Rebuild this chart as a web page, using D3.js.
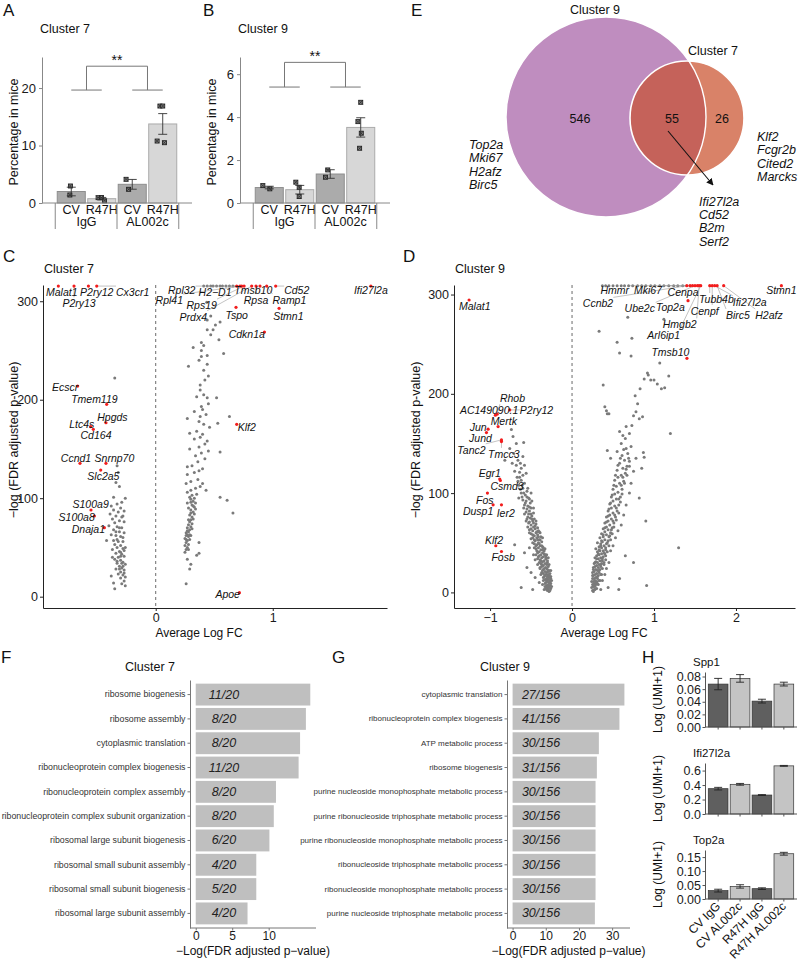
<!DOCTYPE html>
<html><head><meta charset="utf-8">
<script src="https://cdn.jsdelivr.net/npm/d3@7"></script>
<style>
body{margin:0;background:#fff}
svg{display:block}
text{font-family:"Liberation Sans",Arial,Helvetica,sans-serif}
</style>
</head><body>
<svg id="fig" width="798" height="962"></svg>
<script>
// ======================= DATA =======================
// Panels A/B
const abGenotype = ["CV","R47H","CV","R47H"];
const abTreatment = ["IgG","AL002c"];
const c7PctMean = [2.0, 0.75, 3.25, 13.75];
const c7PctSe = [0.75, 0.22, 0.85, 1.8];
const c7PctMice = [[2.96,1.39],[0.93,0.95,0.38],[4.12,2.38],[16.87,16.87,10.78,10.49]];
const c9PctMean = [0.72, 0.62, 1.35, 3.52];
const c9PctSe = [0.06, 0.2, 0.2, 0.45];
const c9PctMice = [[0.81,0.66],[0.97,0.73,0.30],[1.54,1.20],[4.69,3.79,3.25,2.55]];
const c7PctTicks = [0,10,20];
const c9PctTicks = [0,2,4,6];
const signifLabel = "**";

// Panel E (Venn)
const vennSetNames = ["Cluster 9","Cluster 7"];
const vennCounts = [546, 55, 26]; // only9, shared, only7
const vennOnly9Genes = ["Top2a","Mki67","H2afz","Birc5"];
const vennSharedGenes = ["Ifi27l2a","Cd52","B2m","Serf2"];
const vennOnly7Genes = ["Klf2","Fcgr2b","Cited2","Marcks"];

// Panel C (Cluster 7 volcano) : [avgLogFC, -log FDR]
const c7Gray = [
[-0.35,222],[-0.33,133],[-0.32,126],[-0.34,116],[-0.31,112],[-0.26,100],[-0.36,101],[-0.29,96],[-0.33,94],[-0.38,92],
[-0.30,90],[-0.36,88],[-0.27,87],[-0.32,86],[-0.39,84],[-0.34,82],[-0.29,81],[-0.37,79],[-0.31,77],[-0.27,76],
[-0.35,75],[-0.40,72],[-0.33,71],[-0.29,70],[-0.36,68],[-0.31,66],[-0.27,65],[-0.38,63],[-0.34,62],[-0.30,61],
[-0.42,57],[-0.36,57],[-0.32,56],[-0.28,56],[-0.35,53],[-0.30,52],[-0.33,50],[-0.28,49],[-0.37,48],[-0.31,46],
[-0.34,44],[-0.29,43],[-0.27,41],[-0.32,40],[-0.35,38],[-0.30,37],[-0.28,35],[-0.33,34],[-0.26,33],[-0.31,31],
[-0.29,29],[-0.34,28],[-0.27,27],[-0.30,25],[-0.32,23],[-0.28,22],[-0.26,20],[-0.30,19],[-0.38,21],[-0.27,16],
[-0.29,13],[-0.36,14],[-0.26,11],[-0.35,8],[-0.33,36],[-0.28,31],[-0.31,28],[-0.27,24],[-0.29,34],[-0.30,41],
[-0.30,45],[-0.28,60],[-0.33,58],[-0.26,50],[-0.34,66],[-0.31,70],[-0.28,82],[-0.37,40],[-0.27,47],
[0.26,13],[0.29,28],[0.30,33],[0.27,38],[0.37,44],[0.35,42],[0.37,55],[0.26,48],[0.27,50],[0.25,52],
[0.28,53],[0.26,55],[0.27,57],[0.29,58],[0.25,59],[0.28,61],[0.27,63],[0.30,62],[0.26,65],[0.28,66],
[0.29,68],[0.27,70],[0.30,71],[0.28,73],[0.31,74],[0.29,76],[0.30,78],[0.32,79],[0.31,81],[0.29,83],
[0.33,84],[0.32,86],[0.30,88],[0.34,89],[0.33,91],[0.31,93],[0.34,95],[0.32,97],[0.30,99],[0.29,101],
[0.33,100],[0.31,103],[0.35,104],[0.27,106],[0.30,108],[0.34,110],[0.38,112],[0.26,115],[0.30,117],[0.36,119],
[0.40,115],[0.43,108],[0.55,101],[0.61,98],[0.66,85],[0.27,124],[0.33,126],[0.37,128],[0.40,130],[0.31,133],
[0.27,132],[0.36,137],[0.42,140],[0.34,143],[0.39,146],[0.45,148],[0.55,147],[0.29,150],[0.37,152],[0.42,155],
[0.44,158],[0.33,160],[0.38,162],[0.40,165],[0.29,166],[0.35,168],[0.46,172],[0.41,175],[0.53,176],[0.37,178],
[0.27,181],[0.38,183],[0.43,185],[0.63,183],[0.33,188],[0.40,190],[0.39,193],[0.45,196],[0.35,203],[0.44,202],
[0.52,202],[0.41,205],[0.38,210],[0.38,215],[0.42,220],[0.45,224],[0.41,230],[0.28,234],[0.44,236],[0.37,240],
[0.39,244],[0.44,245],[0.58,247],[0.39,250],[0.32,253],[0.41,255],[0.39,258],[0.54,261],[0.47,266],[0.44,271],
[0.49,271],[0.51,276],[0.55,279],[0.44,281],[0.47,285],[0.436,299],
[0.25,45],[0.26,58],[0.28,48],[0.26,62],[0.27,67],[0.29,63],[0.28,78],[0.31,69],[0.30,85],[0.28,90],[0.32,92],[0.27,95],[0.30,96],
[0.41,315.4],[0.44,315.4],[0.47,315.4],[0.49,315.4],[0.52,315.4],[0.55,315.4],[0.57,315.4],[0.60,315.4],[0.63,315.4],[0.66,315.4]
];
const c7Genes = [
["Malat1",-0.832,315.4],["P2ry13",-0.698,315.4],["P2ry12",-0.575,315.4],["Cx3cr1",-0.504,315.4],
["Ecscr",-0.667,213.9],["Tmem119",-0.419,195.3],["Hpgds",-0.425,176.6],["Ltc4s",-0.556,172.6],["Cd164",-0.533,169.9],
["Ccnd1",-0.647,135.4],["Snrnp70",-0.425,135.4],["Slc2a5",-0.470,128.6],["S100a9",-0.553,88.0],["S100a8",-0.524,81.9],
["Dnaja1",-0.439,70.1],["Rpl32",0.692,315.4],["H2\u2212D1",0.720,315.4],["Rpl41",0.735,315.4],["Rps19",0.755,315.4],
["Prdx4",0.820,315.4],["Rpsa",0.857,315.4],["Tmsb10",0.891,315.4],["Ramp1",0.948,315.4],["Cd52",1.025,315.4],
["Ifi27l2a",1.838,315.4],["Tspo",0.686,293.8],["Stmn1",1.054,292.8],["Cdkn1a",0.929,268.7],["Klf2",0.692,175.0],["Apoe",0.715,4.1]
];
const c7XTicks = [0,1];
const volcanoYTicks = [0,100,200,300];

// Panel D (Cluster 9 volcano)
const c9Gray = [
[-0.27,2],[-0.29,3],[-0.26,4],[-0.28,5],[-0.30,5],[-0.27,7],[-0.31,7],[-0.29,8],[-0.26,9],[-0.28,10],
[-0.32,10],[-0.30,11],[-0.27,12],[-0.29,13],[-0.33,13],[-0.31,14],[-0.28,15],[-0.26,16],[-0.30,16],[-0.34,16],
[-0.32,18],[-0.29,18],[-0.27,19],[-0.35,19],[-0.31,20],[-0.33,21],[-0.28,22],[-0.30,23],[-0.36,22],[-0.34,24],
[-0.32,25],[-0.29,26],[-0.37,26],[-0.35,27],[-0.31,28],[-0.33,29],[-0.38,29],[-0.30,30],[-0.36,31],[-0.34,32],
[-0.39,33],[-0.32,34],[-0.37,35],[-0.35,36],[-0.41,36],[-0.33,38],[-0.38,38],[-0.36,40],[-0.42,40],[-0.40,41],
[-0.34,42],[-0.38,43],[-0.44,44],[-0.41,45],[-0.36,46],[-0.39,47],[-0.43,48],[-0.46,49],[-0.41,50],[-0.37,51],
[-0.45,52],[-0.40,53],[-0.43,55],[-0.48,55],[-0.38,56],[-0.46,57],[-0.42,58],[-0.50,59],[-0.44,60],[-0.40,61],
[-0.48,62],[-0.45,64],[-0.52,63],[-0.42,65],[-0.47,66],[-0.50,68],[-0.44,69],[-0.53,70],[-0.48,72],[-0.46,74],
[-0.51,75],[-0.55,74],[-0.49,77],[-0.53,79],[-0.47,80],[-0.52,82],[-0.56,81],[-0.50,85],[-0.54,87],[-0.58,88],
[-0.51,90],[-0.56,92],[-0.60,93],[-0.53,95],[-0.57,98],[-0.62,100],[-0.55,102],[-0.60,105],[-0.65,108],[-0.58,110],
[-0.62,113],[-0.67,116],[-0.60,118],[-0.64,121],[-0.70,122],[-0.62,125],[-0.68,128],[-0.73,130],[-0.66,133],[-0.82,133],
[-0.60,137],[-0.71,140],[-0.76,145],[-0.59,151],[-0.72,157],[-0.74,164],[-0.68,150],[-0.56,120],[-0.50,100],[-0.70,48],
[-0.58,40],[-0.50,20],[-0.55,25],[-0.45,15],[-0.62,5],[-0.48,3],[-0.40,10],[-0.36,8],[-0.38,18],[-0.42,28],
[-0.45,33],[-0.39,25],[-0.47,38],[-0.52,45],[-0.35,12],[-0.33,6],[-0.31,3],[-0.34,3],[-0.25,6],[-0.25,12],
[-0.26,22],[-0.28,28],[-0.31,38],[-0.29,35],[-0.35,45],[-0.33,44],[-0.39,53],[-0.36,55],[-0.41,62],[-0.39,60],
[-0.44,72],[-0.47,85],[-0.52,94],[-0.49,92],[-0.54,105],[-0.65,95],[-0.63,130],[-0.58,128],
[-0.28,1],[-0.30,2],[-0.32,4],[-0.29,6],[-0.33,9],[-0.31,12],[-0.35,15],[-0.33,17],[-0.37,20],[-0.35,23],
[-0.39,24],[-0.37,28],[-0.40,30],[-0.38,32],[-0.42,34],[-0.40,37],[-0.44,38],[-0.43,42],[-0.46,45],[-0.44,47],
[-0.48,50],[-0.46,53],[-0.50,54],[-0.48,58],[-0.52,60],[-0.50,64],[-0.54,66],[-0.52,71],[-0.56,72],[-0.54,76],
[-0.58,79],[-0.55,84],[-0.59,85],[-0.57,90],[-0.61,96],[-0.59,100],[-0.63,104],[-0.61,108],[-0.66,112],[-0.64,116],
[-0.27,10],[-0.26,14],[-0.28,17],[-0.29,21],[-0.31,24],[-0.30,32],[-0.32,36],[-0.34,39],[-0.36,43],[-0.37,47],
[-0.40,49],[-0.42,53],[-0.41,56],[-0.43,61],[-0.45,67],[-0.47,70],[-0.49,74],[-0.50,79],[-0.52,86],[-0.55,96],
[0.25,2],[0.27,3],[0.24,5],[0.26,6],[0.28,6],[0.25,8],[0.29,8],[0.27,9],[0.24,11],[0.26,11],
[0.30,11],[0.28,12],[0.25,14],[0.27,14],[0.31,14],[0.29,15],[0.26,17],[0.32,17],[0.28,18],[0.30,19],
[0.25,20],[0.33,20],[0.27,21],[0.31,22],[0.29,23],[0.34,23],[0.26,25],[0.32,25],[0.28,26],[0.35,26],
[0.30,27],[0.33,28],[0.27,29],[0.36,29],[0.31,30],[0.29,31],[0.34,32],[0.37,32],[0.32,34],[0.28,35],
[0.35,35],[0.38,36],[0.30,37],[0.33,38],[0.36,39],[0.40,39],[0.31,41],[0.34,42],[0.38,42],[0.29,44],
[0.36,45],[0.41,45],[0.33,46],[0.39,47],[0.35,49],[0.42,49],[0.31,50],[0.37,51],[0.44,52],[0.40,53],
[0.34,55],[0.38,56],[0.45,56],[0.42,58],[0.36,59],[0.40,61],[0.47,60],[0.44,63],[0.38,64],[0.49,65],
[0.42,66],[0.46,68],[0.40,70],[0.51,70],[0.44,72],[0.48,74],[0.42,76],[0.53,76],[0.46,78],[0.50,80],
[0.44,82],[0.55,82],[0.48,85],[0.52,87],[0.46,89],[0.57,88],[0.50,92],[0.54,94],[0.48,96],[0.59,96],
[0.52,99],[0.56,101],[0.50,104],[0.61,104],[0.54,107],[0.58,110],[0.63,112],[0.52,113],[0.56,116],[0.60,118],
[0.65,120],[0.55,123],[0.62,125],[0.67,127],[0.58,130],[0.64,133],[0.70,132],[0.47,135],[0.61,138],[0.68,140],
[0.43,143],[0.55,142],[0.66,145],[0.72,147],[0.60,150],[0.65,155],[0.62,158],[0.70,160],[0.58,162],[0.66,167],
[0.73,168],[0.75,178],[0.78,182],[0.82,175],[0.86,177],[0.80,190],[0.77,198],[0.83,205],[0.88,215],[0.93,219],
[0.96,214],[1.00,214],[1.04,210],[1.09,205],[1.13,206],[1.18,218],[1.07,231],[0.92,221],[0.40,187],[0.43,180],
[0.45,180],[0.42,183],[0.38,209],[0.33,263],[0.55,252],[0.58,241],[0.72,238],[0.73,256],[0.68,277],[1.12,275],
[1.20,160],[0.87,141],[0.88,136],[0.85,125],[0.82,95],[0.90,72],[1.30,45],[0.65,37],[0.75,30],[0.91,7],
[0.57,3],[0.58,14],[0.44,5],[0.35,3],[0.32,8],[0.37,12],[0.40,18],[0.42,24],[0.45,30],[0.47,42],
[0.50,47],[0.53,55],[0.56,62],[0.60,68],[0.63,78],[0.66,88],[0.70,100],[0.72,110],[0.75,122],[0.78,135],
[0.39,28],[0.36,18],[0.34,12],[0.41,33],
[0.26,1],[0.28,3],[0.30,4],[0.27,7],[0.31,9],[0.29,10],[0.33,12],[0.31,16],[0.35,18],[0.33,22],
[0.37,24],[0.35,28],[0.39,30],[0.37,34],[0.41,37],[0.39,40],[0.43,41],[0.41,43],[0.45,47],[0.43,50],
[0.47,53],[0.46,57],[0.49,59],[0.48,63],[0.51,66],[0.50,72],[0.54,73],[0.52,78],[0.57,80],[0.54,85],
[0.59,91],[0.57,94],[0.61,99],[0.60,108],[0.64,110],[0.62,116],[0.67,118],[0.66,124],[0.70,127],[0.69,135],
[0.25,17],[0.26,23],[0.28,30],[0.30,34],[0.32,39],[0.33,43],[0.35,47],[0.36,52],[0.38,58],[0.40,65],
[0.42,71],[0.44,77],[0.45,84],[0.47,90],[0.49,98],[0.51,108],[0.53,118],[0.56,128],[0.59,135],[0.63,144],
[0.37,308.9],[0.41,308.9],[0.45,308.9],[0.50,308.9],[0.55,308.9],[0.60,308.9],[0.64,308.9],[0.69,308.9],[0.74,308.9],[0.80,308.9],
[0.85,308.9],[0.90,308.9],[0.96,308.9],[1.01,308.9],[1.07,308.9],[1.12,308.9],[1.18,308.9],[1.24,308.9],[1.29,308.9],[1.35,308.9]
];
const c9Genes = [
["Malat1",-1.256,294.5],["Rhob",-0.914,179.5],["AC149090.1",-0.935,178.5],["P2ry12",-0.760,183.8],["Mertk",-0.902,167.0],
["Jun",-1.024,164.4],["Jund",-1.044,161.0],["Tanc2",-0.861,153.6],["Tmcc3",-0.861,151.9],["Egr1",-0.882,114.1],
["Csmd3",-0.874,112.7],["Fos",-1.032,100.0],["Dusp1",-0.963,88.2],["Ier2",-0.861,88.2],["Klf2",-0.930,47.0],["Fosb",-0.861,41.2],
["Ccnb2",1.40,308.9],["Hmmr",1.44,308.9],["Mki67",1.47,308.9],["Ube2c",1.50,308.9],["Cenpa",1.53,308.9],["Hmgb2",1.55,308.9],
["Arl6ip1",1.57,308.9],["Top2a",1.415,293.8],["Tubb4b",1.68,308.9],["Cenpf",1.71,308.9],["Ifi27l2a",1.74,308.9],
["Birc5",1.77,308.9],["H2afz",1.85,308.9],["Stmn1",2.554,308.9],["Tmsb10",1.402,235.8]
];
const c9XTicks = [-1,0,1,2];

// Panels F/G (GO enrichment)
const goC7Terms = ["ribosome biogenesis","ribosome assembly","cytoplasmic translation","ribonucleoprotein complex biogenesis",
"ribonucleoprotein complex assembly","ribonucleoprotein complex subunit organization","ribosomal large subunit biogenesis",
"ribosomal small subunit assembly","ribosomal small subunit biogenesis","ribosomal large subunit assembly"];
const goC7Values = [15.7, 15.1, 14.3, 14.1, 11.0, 10.7, 10.1, 8.3, 8.3, 7.1];
const goC7Ratios = ["11/20","8/20","8/20","11/20","8/20","8/20","6/20","4/20","5/20","4/20"];
const goC7Ticks = [0,5,10];
const goC9Terms = ["cytoplasmic translation","ribonucleoprotein complex biogenesis","ATP metabolic process","ribosome biogenesis",
"purine nucleoside monophosphate metabolic process","purine ribonucleoside triphosphate metabolic process",
"purine ribonucleoside monophosphate metabolic process","ribonucleoside triphosphate metabolic process",
"ribonucleoside monophosphate metabolic process","purine nucleoside triphosphate metabolic process"];
const goC9Values = [33.7, 32.2, 26.0, 25.4, 25.0, 25.0, 25.0, 25.0, 25.0, 24.8];
const goC9Ratios = ["27/156","41/156","30/156","31/156","30/156","30/156","30/156","30/156","30/156","30/156"];
const goC9Ticks = [0,10,20,30];

// Panel H
const hConditions = ["CV IgG","CV AL002c","R47H IgG","R47H AL002c"];
const spp1Mean = [0.068, 0.077, 0.041, 0.068], spp1Se = [0.009, 0.006, 0.003, 0.003];
const ifiMean = [0.350, 0.410, 0.262, 0.665], ifiSe = [0.018, 0.012, 0.006, 0.006];
const top2aMean = [0.030, 0.045, 0.037, 0.162], top2aSe = [0.005, 0.006, 0.003, 0.005];
const spp1Ticks = [0,0.02,0.04,0.06,0.08], ifiTicks = [0,0.2,0.4,0.6], top2aTicks = [0,0.05,0.10,0.15];

// ======================= LAYOUT (not data) =======================
const miceJitter7 = [[-0.03,-0.05],[-0.13,-0.01,0.1],[-0.22,-0.13],[-0.1,0.0,-0.2,0.06]];
const miceJitter9 = [[-0.23,0.02],[-0.14,-0.02,-0.02],[-0.09,-0.17],[0.0,-0.1,0.02,-0.04]];
const c7LabelAt = {"Malat1":[-0.803,309.6],"P2ry13":[-0.655,297.8],"P2ry12":[-0.504,309.6],"Cx3cr1":[-0.197,309.6],
"Ecscr":[-0.775,212.5],"Tmem119":[-0.524,200.7],"Hpgds":[-0.370,182.4],"Ltc4s":[-0.632,175.6],"Cd164":[-0.510,164.5],
"Ccnd1":[-0.681,141.1],"Snrnp70":[-0.353,141.1],"Slc2a5":[-0.447,122.8],"S100a9":[-0.556,93.7],"S100a8":[-0.675,80.9],
"Dnaja1":[-0.575,68.7],"Rpl32":[0.222,311.4],"H2\u2212D1":[0.507,309.0],"Rpl41":[0.116,301.2],"Rps19":[0.393,296.1],
"Prdx4":[0.321,284.3],"Rpsa":[0.857,301.2],"Tmsb10":[0.834,311.4],"Ramp1":[1.142,301.2],"Cd52":[1.205,311.4],
"Ifi27l2a":[1.838,311.4],"Tspo":[0.692,286.0],"Stmn1":[1.133,285.3],"Cdkn1a":[0.778,266.7],"Klf2":[0.778,171.9],"Apoe":[0.615,2.4]};
const c9LabelAt = {"Malat1":[-1.187,288.4],"Rhob":[-0.727,195.6],"AC149090.1":[-1.012,183.8],"P2ry12":[-0.434,183.8],
"Mertk":[-0.833,172.7],"Jun":[-1.146,167.0],"Jund":[-1.117,155.3],"Tanc2":[-1.227,143.6],"Tmcc3":[-0.833,139.5],
"Egr1":[-1.004,120.1],"Csmd3":[-0.793,107.3],"Fos":[-1.065,93.3],"Dusp1":[-1.146,81.5],"Ier2":[-0.809,79.9],
"Klf2":[-0.951,53.0],"Fosb":[-0.841,35.6],"Ccnb2":[0.317,291.1],"Hmmr":[0.521,304.5],"Mki67":[0.927,304.5],
"Ube2c":[0.826,286.1],"Cenpa":[1.354,302.2],"Hmgb2":[1.313,270.0],"Arl6ip1":[1.118,259.3],"Top2a":[1.200,287.7],
"Tubb4b":[1.761,295.5],"Cenpf":[1.618,283.4],"Ifi27l2a":[2.167,292.8],"Birc5":[2.024,279.4],"H2afz":[2.402,279.4],
"Stmn1":[2.554,304.5],"Tmsb10":[1.200,241.8]};

const FONT = '"Liberation Sans", Arial, Helvetica, sans-serif';
const svg = d3.select("#fig");
const defs = svg.append("defs");

function txt(g, x, y, s, o = {}) {
  const t = g.append("text").attr("x", x).attr("y", y).text(s)
    .attr("font-size", o.size || 12).attr("fill", o.fill || "#111")
    .attr("text-anchor", o.anchor || "start");
  if (o.italic) t.attr("font-style", "italic");
  if (o.rotate) t.attr("transform", `rotate(${o.rotate},${x},${y})`);
  if (o.db) t.attr("dominant-baseline", o.db);
  return t;
}
function styleAxis(a, size, color) {
  a.attr("font-family", FONT).attr("font-size", size);
  a.selectAll("path,line").attr("stroke", color || "#333");
  a.selectAll("text").attr("fill", "#1a1a1a");
}

// panel letters
[["A",3,16],["B",203,16],["C",3,262],["D",403,262],["E",411,16],["F",1,663],["G",332,663],["H",642,663]]
  .forEach(([l,x,y]) => txt(svg, x, y, l, {size:17}));

// ======================= A / B =======================
function pctPanel(o) {
  const g = svg.append("g");
  const x = d3.scaleBand().domain(d3.range(o.means.length)).range([o.x0, o.x1]).paddingInner(0.08).paddingOuter(0.5);
  const y = d3.scaleLinear().domain([0, o.yMax]).range([o.yBot, o.yTop]);
  const bw = x.bandwidth();
  const cx = i => x(i) + bw / 2;
  txt(g, o.x0 - 2, 33, o.title, {size:12.5});
  g.selectAll(null).data(o.means).join("rect")
    .attr("x", (d,i) => x(i)).attr("y", d => y(d)).attr("width", bw).attr("height", d => o.yBot - y(d))
    .attr("fill", (d,i) => abGenotype[i] === "CV" ? "#ababab" : "#d7d7d7")
    .attr("stroke", (d,i) => abGenotype[i] === "CV" ? "#8e8e8e" : "#ababab").attr("stroke-width", 1);
  o.mice.forEach((arr, i) => arr.forEach((v, j) => {
    const px = cx(i) + o.jit[i][j] * bw, py = y(v), s = 2;
    g.append("rect").attr("x", px - s).attr("y", py - s).attr("width", 2*s).attr("height", 2*s)
      .attr("fill", "#888").attr("stroke", "#222").attr("stroke-width", 0.9);
    g.append("path").attr("d", `M${px-s},${py-s}L${px+s},${py+s}M${px+s},${py-s}L${px-s},${py+s}`)
      .attr("stroke", "#222").attr("stroke-width", 0.7);
  }));
  o.means.forEach((m, i) => {
    const hi = y(m + o.ses[i]), lo = y(m - o.ses[i]), c = cx(i);
    g.append("path").attr("d", `M${c},${hi}V${lo}M${c-4.5},${hi}H${c+4.5}M${c-4.5},${lo}H${c+4.5}`)
      .attr("stroke", "#333").attr("stroke-width", 0.9).attr("fill", "none");
  });
  const ax = g.append("g").attr("transform", `translate(${o.x0},0)`)
    .call(d3.axisLeft(y).tickValues(o.ticks).tickSize(3).tickPadding(3).tickSizeOuter(0).tickFormat(d3.format("d")));
  styleAxis(ax, 13, "#888");
  g.append("line").attr("x1", o.x0).attr("x2", o.x1).attr("y1", o.yBot).attr("y2", o.yBot).attr("stroke", "#888");
  abGenotype.forEach((gt, i) => txt(g, cx(i), o.yBot + 10.5, gt, {size:12.5, anchor:"middle"}));
  const sepX = [x(0) - 2, (x(1) + bw + x(2)) / 2, x(3) + bw + 2];
  sepX.forEach(sx => g.append("line").attr("x1", sx).attr("x2", sx).attr("y1", o.yBot).attr("y2", o.yBot + 26).attr("stroke", "#888"));
  abTreatment.forEach((t, k) => txt(g, (cx(2*k) + cx(2*k+1)) / 2, o.yBot + 23, t, {size:12.5, anchor:"middle"}));
  txt(g, o.x0 - 24, (o.yTop + o.yBot) / 2 + 2, "Percentage in mice", {size:12.5, anchor:"middle", rotate:-90});
  const m1 = (cx(0) + cx(1)) / 2, m2 = (cx(2) + cx(3)) / 2, yl = y(o.bracket[0]), yh = y(o.bracket[1]);
  g.append("path").attr("d", `M${cx(0)},${yl}H${cx(1)}M${cx(2)},${yl}H${cx(3)}M${m1},${yl}V${yh}H${m2}V${yl}`)
    .attr("stroke", "#777").attr("fill", "none").attr("stroke-width", 1);
  txt(g, (m1 + m2) / 2, yh - 1, signifLabel, {size:14, anchor:"middle"});
}
pctPanel({x0:42, x1:192, yTop:57, yBot:203, yMax:25.4, means:c7PctMean, ses:c7PctSe, mice:c7PctMice, jit:miceJitter7,
  ticks:c7PctTicks, title:"Cluster 7", bracket:[19.65, 23.8]});
pctPanel({x0:240, x1:390, yTop:57, yBot:203, yMax:6.8, means:c9PctMean, ses:c9PctSe, mice:c9PctMice, jit:miceJitter9,
  ticks:c9PctTicks, title:"Cluster 9", bracket:[5.4, 6.55]});

// ======================= E (Venn) =======================
(function () {
  const g = svg.append("g");
  const C9 = {cx:606, cy:117, r:100}, C7 = {cx:687, cy:118, r:57};
  defs.append("clipPath").attr("id", "clip9").append("circle").attr("cx", C9.cx).attr("cy", C9.cy).attr("r", C9.r);
  defs.append("marker").attr("id", "arrow").attr("viewBox", "0 0 10 10").attr("refX", 9).attr("refY", 5)
    .attr("markerWidth", 7).attr("markerHeight", 7).attr("markerUnits", "userSpaceOnUse").attr("orient", "auto")
    .append("path").attr("d", "M0,0L10,5L0,10z").attr("fill", "#111");
  g.append("circle").attr("cx", C9.cx).attr("cy", C9.cy).attr("r", C9.r).attr("fill", "#bf8dbf");
  g.append("circle").attr("cx", C7.cx).attr("cy", C7.cy).attr("r", C7.r).attr("fill", "#d98268");
  g.append("circle").attr("cx", C7.cx).attr("cy", C7.cy).attr("r", C7.r).attr("fill", "#c5625a").attr("clip-path", "url(#clip9)");
  g.append("circle").attr("cx", C9.cx).attr("cy", C9.cy).attr("r", C9.r).attr("fill", "none").attr("stroke", "#fff").attr("stroke-width", 1.4);
  g.append("circle").attr("cx", C7.cx).attr("cy", C7.cy).attr("r", C7.r).attr("fill", "none").attr("stroke", "#fff").attr("stroke-width", 1.6);
  txt(g, 595, 14, vennSetNames[0], {size:12.5, anchor:"middle"});
  txt(g, 688, 55, vennSetNames[1], {size:12.5});
  [[580,vennCounts[0]],[672,vennCounts[1]],[722,vennCounts[2]]].forEach(([x,c]) => txt(g, x, 123, c, {size:12.5, anchor:"middle"}));
  vennOnly9Genes.forEach((s,i) => txt(g, 469, 149 + i*13.4, s, {size:12.5, italic:true}));
  vennOnly7Genes.forEach((s,i) => txt(g, 757, 141 + i*13.4, s, {size:12.5, italic:true}));
  vennSharedGenes.forEach((s,i) => txt(g, 699, 205.5 + i*13.4, s, {size:12.5, italic:true}));
  g.append("line").attr("x1", 668).attr("y1", 131).attr("x2", 713).attr("y2", 185)
    .attr("stroke", "#111").attr("stroke-width", 1.1).attr("marker-end", "url(#arrow)");
})();

// ======================= C / D volcano =======================
function volcano(o) {
  const g = svg.append("g");
  const x = d3.scaleLinear().domain(o.xDomain).range([o.x0, o.x1]);
  const y = d3.scaleLinear().domain(o.yDomain).range([o.y1, o.y0]);
  txt(g, o.x0 + 1, 273, o.title, {size:12.5});
  g.append("line").attr("x1", x(0)).attr("x2", x(0)).attr("y1", o.y0).attr("y2", o.y1)
    .attr("stroke", "#444").attr("stroke-width", 0.8).attr("stroke-dasharray", "3,3");
  g.selectAll(null).data(o.gray).join("circle").attr("cx", d => x(d[0])).attr("cy", d => y(d[1])).attr("r", 1.5).attr("fill", "#7a7a7a");
  const segG = g.append("g"), dotG = g.append("g"), labG = g.append("g");
  o.genes.forEach(([name, gx, gy]) => {
    const px = x(gx), py = y(gy);
    dotG.append("circle").attr("cx", px).attr("cy", py).attr("r", 1.6).attr("fill", "#f21d1d");
    const lp = o.labelAt[name];
    const t = txt(labG, x(lp[0]), y(lp[1]), name, {size:10.5, italic:true, anchor:"middle", db:"central"});
    const b = t.node().getBBox();
    const qx = Math.max(b.x, Math.min(px, b.x + b.width)), qy = Math.max(b.y, Math.min(py, b.y + b.height));
    if (Math.hypot(px - qx, py - qy) > 5)
      segG.append("line").attr("x1", px).attr("y1", py).attr("x2", qx).attr("y2", qy).attr("stroke", "#9a9a9a").attr("stroke-width", 0.6);
  });
  const ay = g.append("g").attr("transform", `translate(${o.x0},0)`)
    .call(d3.axisLeft(y).tickValues(volcanoYTicks).tickSize(3).tickPadding(2).tickSizeOuter(0));
  styleAxis(ay, 12.5, "#222");
  const axb = g.append("g").attr("transform", `translate(0,${o.y1})`)
    .call(d3.axisBottom(x).tickValues(o.xTicks).tickSize(3).tickPadding(2).tickSizeOuter(0).tickFormat(d => d < 0 ? "\u2212" + Math.abs(d) : d));
  styleAxis(axb, 12.5, "#222");
  txt(g, o.titleX, 637, "Average Log FC", {size:12, anchor:"middle"});
  txt(g, o.yLabX, o.yLabY, "\u2212log (FDR adjusted p-value)", {size:12.5, anchor:"middle", rotate:-90});
}
volcano({x0:43, x1:387, y0:285, y1:608, xDomain:[-0.963,1.976], yDomain:[-11.5,316.5], gray:c7Gray, genes:c7Genes,
  labelAt:c7LabelAt, xTicks:c7XTicks, title:"Cluster 7", titleX:199, yLabX:18, yLabY:440});
volcano({x0:454, x1:795, y0:285, y1:608, xDomain:[-1.44,2.72], yDomain:[-15.7,309.6], gray:c9Gray, genes:c9Genes,
  labelAt:c9LabelAt, xTicks:c9XTicks, title:"Cluster 9", titleX:604, yLabX:420, yLabY:440});

// ======================= F / G =======================
function goPanel(o) {
  const g = svg.append("g");
  const vmax = d3.max(o.vals);
  const x = d3.scaleLinear().domain([-0.05 * vmax, 1.05 * vmax]).range([o.x0, o.x1]);
  const y = d3.scaleBand().domain(o.terms).range([o.y0, o.y1]).paddingInner(0.1).paddingOuter(0.15);
  txt(g, o.titleX, 671, o.title, {size:12.5, anchor:"middle"});
  g.selectAll(null).data(o.vals).join("rect")
    .attr("x", x(0)).attr("y", (d,i) => y(o.terms[i])).attr("width", d => x(d) - x(0)).attr("height", y.bandwidth())
    .attr("fill", "#bfbfbf");
  o.ratios.forEach((r, i) => txt(g, o.ratioX, y(o.terms[i]) + y.bandwidth()/2, r, {size:12.5, italic:true, anchor:"middle", db:"central", fill:"#222"}));
  const ay = g.append("g").attr("transform", `translate(${o.x0},0)`)
    .call(d3.axisLeft(y).tickSize(2.5).tickPadding(2).tickSizeOuter(0));
  styleAxis(ay, o.termSize, "#777");
  ay.selectAll("text").attr("fill", "#333");
  const ax = g.append("g").attr("transform", `translate(0,${o.y1})`)
    .call(d3.axisBottom(x).tickValues(o.ticks).tickSize(2.5).tickPadding(1).tickSizeOuter(0));
  styleAxis(ax, 12, "#777");
  ax.select(".domain").attr("d", `M${o.x0},0H${o.x1}`);
  txt(g, (o.x0 + o.x1) / 2, 955, "\u2212Log(FDR adjusted p\u2212value)", {size:12, anchor:"middle"});
}
goPanel({x0:190, x1:316, y0:680, y1:928, terms:goC7Terms, vals:goC7Values, ratios:goC7Ratios, ticks:goC7Ticks,
  title:"Cluster 7", titleX:150, ratioX:224, termSize:8.8});
goPanel({x0:507, x1:630, y0:680, y1:928, terms:goC9Terms, vals:goC9Values, ratios:goC9Ratios, ticks:goC9Ticks,
  title:"Cluster 9", titleX:505, ratioX:541, termSize:8});

// ======================= H =======================
function hPanel(o) {
  const g = svg.append("g");
  const top = d3.max(o.means.map((m,i) => m + o.ses[i])) * 1.05;
  const x = d3.scaleBand().domain(hConditions).range([705, 797]).paddingInner(0.1).paddingOuter(0.15);
  const y = d3.scaleLinear().domain([0, top]).range([o.yBot, o.yTop]);
  const bw = x.bandwidth();
  txt(g, 693, o.yTop - 6, o.title, {size:11.5});
  g.selectAll(null).data(o.means).join("rect")
    .attr("x", (d,i) => x(hConditions[i])).attr("y", d => y(d)).attr("width", bw).attr("height", d => o.yBot - y(d))
    .attr("fill", (d,i) => hConditions[i].endsWith("IgG") ? "#5f5f5f" : "#c4c4c4").attr("stroke", "#333").attr("stroke-width", 0.7);
  o.means.forEach((m, i) => {
    const c = x(hConditions[i]) + bw/2, hi = y(m + o.ses[i]), lo = y(m - o.ses[i]);
    g.append("path").attr("d", `M${c},${hi}V${lo}M${c-4},${hi}H${c+4}M${c-4},${lo}H${c+4}`)
      .attr("stroke", "#222").attr("stroke-width", 0.9).attr("fill", "none");
  });
  const ay = g.append("g").attr("transform", "translate(705,0)")
    .call(d3.axisLeft(y).tickValues(o.ticks).tickSize(2.5).tickPadding(1.5).tickSizeOuter(0)
      .tickFormat(d3.format(o.fmt)));
  styleAxis(ay, 12.5, "#555");
  const ax = g.append("g").attr("transform", `translate(0,${o.yBot})`)
    .call(d3.axisBottom(x).tickSize(2.5).tickSizeOuter(0).tickFormat(""));
  styleAxis(ax, 12, "#555");
  ax.select(".domain").attr("d", "M705,0H797");
  txt(g, 662, (o.yTop + o.yBot) / 2, "Log (UMI+1)", {size:12, anchor:"middle", rotate:-90});
  if (o.showX) hConditions.forEach(c => txt(g, x(c) + bw/2 + 3, o.yBot + 8, c, {size:12, anchor:"end", rotate:-45}));
}
hPanel({title:"Spp1", means:spp1Mean, ses:spp1Se, ticks:spp1Ticks, yTop:672, yBot:727, fmt:".2f"});
hPanel({title:"Ifi27l2a", means:ifiMean, ses:ifiSe, ticks:ifiTicks, yTop:763, yBot:814, fmt:".1f"});
hPanel({title:"Top2a", means:top2aMean, ses:top2aSe, ticks:top2aTicks, yTop:850, yBot:899, fmt:".2f", showX:true});
</script>
</body></html>
